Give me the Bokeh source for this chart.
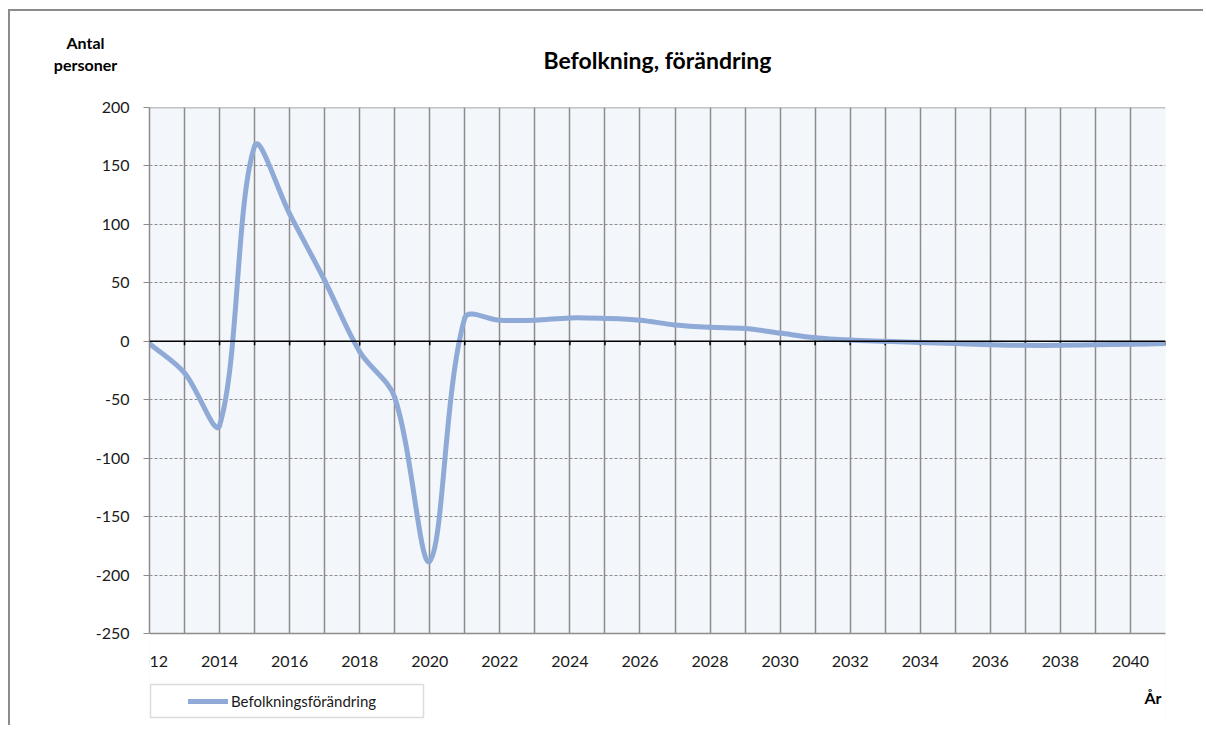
import math
from bokeh.plotting import figure
from bokeh.models import (Range1d, FixedTicker, Label, Legend, LegendItem, BoxAnnotation,
                          Span, ColumnDataSource)
from bokeh.embed import file_html
from bokeh.resources import INLINE

years = list(range(2012, 2042))
change = [-2, -27, -72, 167, 109, 52, -9, -48, -188, 20,
          18, 18, 20, 19.5, 18, 14, 12, 11, 7, 3,
          1, 0, -1, -2, -3, -3.5, -3.5, -3, -2.5, -2]
x_ticks = list(range(2012, 2041, 2))
y_ticks = [-250, -200, -150, -100, -50, 0, 50, 100, 150, 200]

TITLE = "Befolkning, förändring"
YLABEL = "Antal\npersoner"
XLABEL = "År"
SERIES = "Befolkningsförändring"

FONT = "Lato"
LINE_COLOR = "#8FAAD7"
GRAY = "#8C8C8C"

XMIN, XMAX, YMIN, YMAX = 2012, 2041, -250, 200
PLOT_W, PLOT_H = 1016, 526          # pixel size of the data area
EXTRA_H = 92                        # room below the data area for legend and axis title
kx = PLOT_W / (XMAX - XMIN)
ky = PLOT_H / (YMAX - YMIN)
Y_LOW = YMIN - EXTRA_H / ky

# Smoothed (Excel-style) Bezier segments built from the data
n = len(years)
def P(i):
    i = max(0, min(n - 1, i))
    return years[i], change[i]
def dist(a, b):
    return math.hypot((a[0] - b[0]) * kx, (a[1] - b[1]) * ky)
def ctrl(i):
    prev, cur, nxt = P(i - 1), P(i), P(i + 1)
    tx, ty = nxt[0] - prev[0], nxt[1] - prev[1]
    din, dout = dist(prev, cur), dist(cur, nxt)
    s = din + dout
    fin = din / s / 3 if s else 0
    fout = dout / s / 3 if s else 0
    return (cur[0] - tx * fin, cur[1] - ty * fin), (cur[0] + tx * fout, cur[1] + ty * fout)
x0 = []; y0 = []; x1 = []; y1 = []; cx0 = []; cy0 = []; cx1 = []; cy1 = []
for i in range(n - 1):
    xa, ya = P(i); xb, yb = P(i + 1)
    _, outc = ctrl(i)
    inc, _ = ctrl(i + 1)
    x0.append(xa); y0.append(ya); x1.append(xb); y1.append(yb)
    cx0.append(outc[0]); cy0.append(outc[1]); cx1.append(inc[0]); cy1.append(inc[1])
src = ColumnDataSource(dict(x0=x0, y0=y0, x1=x1, y1=y1, cx0=cx0, cy0=cy0, cx1=cx1, cy1=cy1))

p = figure(frame_width=PLOT_W, frame_height=PLOT_H + EXTRA_H, output_backend="svg",
           toolbar_location=None,
           x_range=Range1d(XMIN, XMAX), y_range=Range1d(Y_LOW, YMAX),
           min_border_left=139, min_border_right=38, min_border_top=96, min_border_bottom=0,
           title=TITLE)
p.styles = {"margin-left": "8px", "margin-top": "9px",
            "border-top": "2px solid " + GRAY, "border-left": "2px solid " + GRAY}
p.background_fill_color = "#F3F6FB"
p.border_fill_color = "white"
p.outline_line_color = None

p.title.align = "center"
p.title.text_font = FONT
p.title.text_font_size = "23px"
p.title.text_font_style = "bold"
p.title.text_color = "black"
p.title.standoff = -16

# grids
p.xgrid.ticker = FixedTicker(ticks=years)
p.xgrid.grid_line_color = GRAY
p.xgrid.grid_line_width = 1.5
p.ygrid.ticker = FixedTicker(ticks=y_ticks)
p.ygrid.grid_line_color = GRAY
p.ygrid.grid_line_width = 1
p.ygrid.grid_line_dash = "3 2"

# white area under the data area (covers grid there)
p.add_layout(BoxAnnotation(left=XMIN, right=XMAX, top=YMIN, bottom=Y_LOW,
                           fill_color="white", fill_alpha=1, line_alpha=0, level="glyph"))

# axes
p.xaxis.fixed_location = YMIN
p.xaxis.ticker = FixedTicker(ticks=x_ticks)
p.xaxis.major_tick_out = 0
p.xaxis.major_tick_in = 0
p.xaxis.minor_tick_line_color = None
p.xaxis.axis_line_color = GRAY
p.xaxis.axis_line_width = 1.5
p.xaxis.major_label_standoff = 22
p.xaxis.major_label_text_font = FONT
p.xaxis.major_label_text_font_size = "16px"
p.xaxis.major_label_text_color = "#1a1a1a"

p.yaxis.bounds = (YMIN, YMAX)
p.yaxis.ticker = FixedTicker(ticks=y_ticks)
p.yaxis.major_label_overrides = {v: str(v) for v in y_ticks}
p.yaxis.major_tick_out = 6
p.yaxis.major_tick_in = 0
p.yaxis.major_tick_line_color = GRAY
p.yaxis.minor_tick_line_color = None
p.yaxis.axis_line_color = GRAY
p.yaxis.axis_line_width = 1.5
p.yaxis.major_label_standoff = 14
p.yaxis.major_label_text_font = FONT
p.yaxis.major_label_text_font_size = "16px"
p.yaxis.major_label_text_color = "#1a1a1a"

# top edge of data area and zero line with small ticks
p.add_layout(Span(location=YMAX, dimension="width", line_color=GRAY, line_width=1.5))
p.add_layout(Span(location=0, dimension="width", line_color="black", line_width=1.5))
p.segment(x0=years, y0=[0] * n, x1=years, y1=[-3.5] * n, line_color="black", line_width=1.5)

r = p.bezier(x0="x0", y0="y0", x1="x1", y1="y1", cx0="cx0", cy0="cy0", cx1="cx1", cy1="cy1",
             source=src, line_color=LINE_COLOR, line_width=5, line_cap="round")

# legend box and legend (inside the lower white band)
p.add_layout(BoxAnnotation(left=1, right=274, top=41, bottom=8,
                           left_units="screen", right_units="screen",
                           top_units="screen", bottom_units="screen",
                           fill_color="white", fill_alpha=1, line_color=GRAY, line_width=1.5))
legend = Legend(items=[LegendItem(label=SERIES, renderers=[r])],
                location=(39, 14), orientation="horizontal",
                padding=0, margin=0, spacing=0,
                glyph_width=40, glyph_height=20, label_height=20, label_standoff=3,
                border_line_alpha=0, background_fill_alpha=0,
                label_text_font=FONT, label_text_font_size="15px", label_text_color="#1a1a1a")
p.add_layout(legend, "center")

p.add_layout(Label(x=1012, y=28, x_units="screen", y_units="screen", text=XLABEL,
                   text_font=FONT, text_font_size="16px", text_font_style="bold",
                   text_align="right", text_baseline="middle", text_color="black"))

p.add_layout(Label(x=-64, y=54, x_units="screen", y_units="screen", text=YLABEL,
                   text_font=FONT, text_font_size="16px", text_font_style="bold",
                   text_line_height=1.2,
                   text_align="center", text_baseline="middle", text_color="black"), "above")

open("out.html", "w").write(file_html(p, INLINE))
